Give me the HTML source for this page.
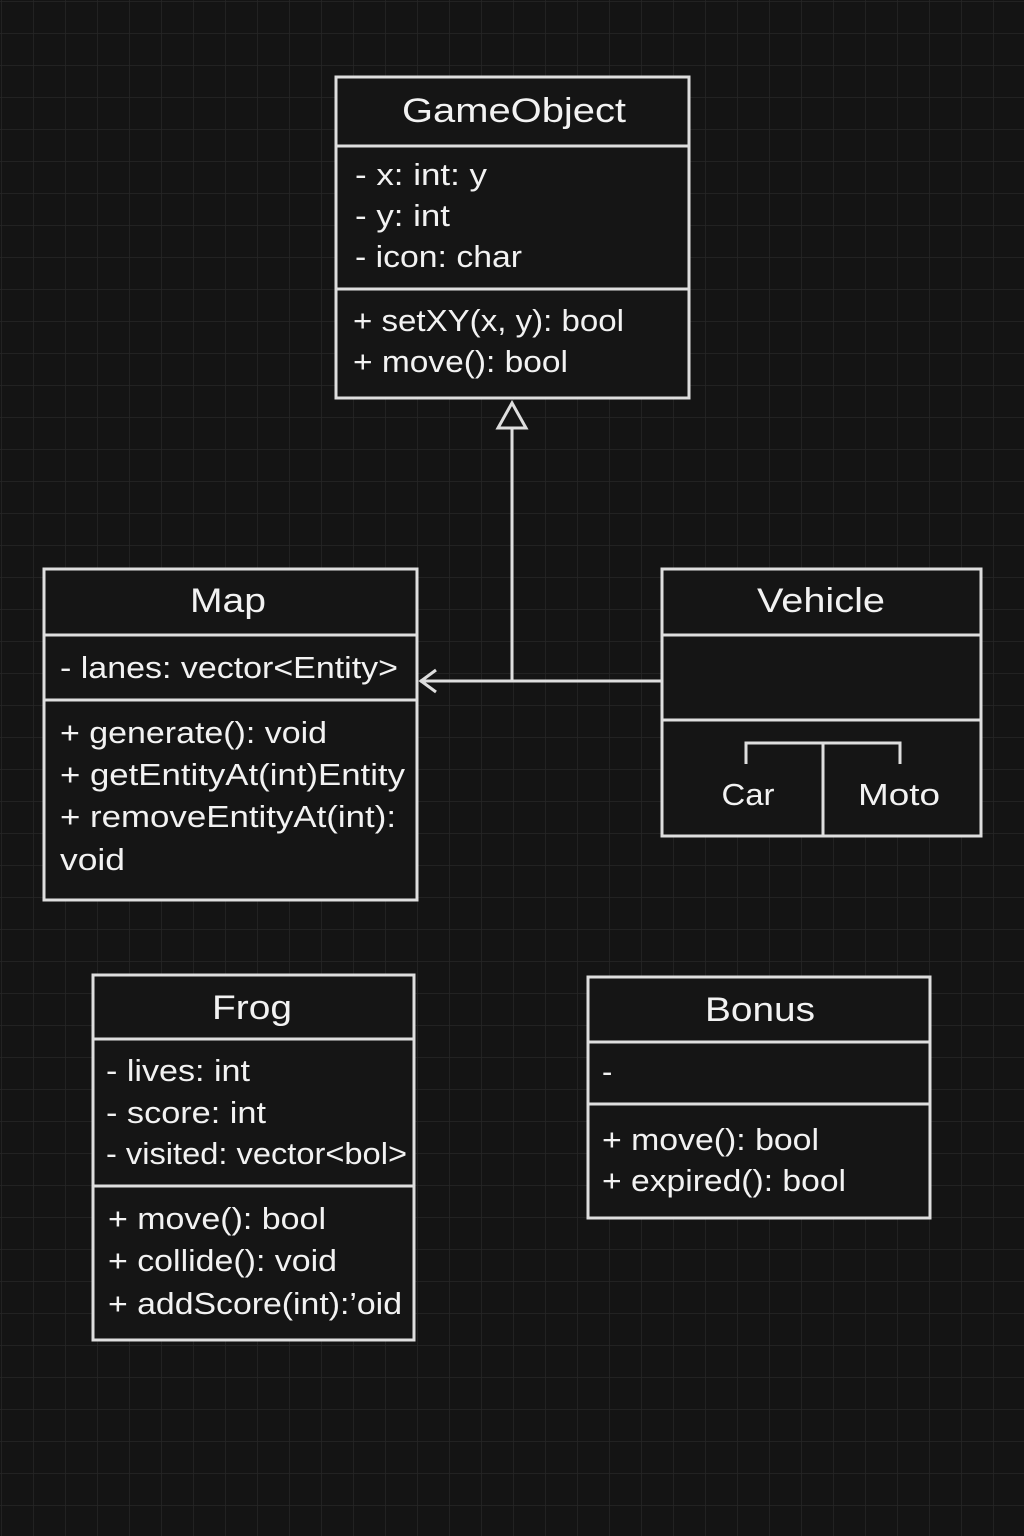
<!DOCTYPE html>
<html><head><meta charset="utf-8"><style>
html,body{margin:0;padding:0;background:#141414;}
svg{display:block;}
text{font-family:"Liberation Sans",sans-serif;fill:#f2f2f2;}
.t{font-size:34px;}
.b{font-size:31px;}
</style></head><body>
<svg width="1024" height="1536" viewBox="0 0 1024 1536" xmlns="http://www.w3.org/2000/svg">
<defs>
<pattern id="g" width="32" height="32" patternUnits="userSpaceOnUse" x="1" y="1">
<path d="M0 0H32M0 0V32" stroke="#262626" stroke-width="1.5" fill="none"/>
</pattern>
</defs>
<rect width="1024" height="1536" fill="#141414"/>
<rect width="1024" height="1536" fill="url(#g)"/>
<g stroke="#dedede" stroke-width="3" fill="#151515">
<!-- GameObject -->
<rect x="336" y="77" width="353" height="321"/>
<line x1="336" y1="146" x2="689" y2="146"/>
<line x1="336" y1="289" x2="689" y2="289"/>
<!-- Map -->
<rect x="44" y="569" width="373" height="331"/>
<line x1="44" y1="635" x2="417" y2="635"/>
<line x1="44" y1="700" x2="417" y2="700"/>
<!-- Vehicle -->
<rect x="662" y="569" width="319" height="267"/>
<line x1="662" y1="635" x2="981" y2="635"/>
<line x1="662" y1="720" x2="981" y2="720"/>
<line x1="823" y1="743" x2="823" y2="836"/>
<polyline points="746,764 746,743 900,743 900,764" fill="none"/>
<!-- Frog -->
<rect x="93" y="975" width="321" height="365"/>
<line x1="93" y1="1039" x2="414" y2="1039"/>
<line x1="93" y1="1186" x2="414" y2="1186"/>
<!-- Bonus -->
<rect x="588" y="977" width="342" height="241"/>
<line x1="588" y1="1042" x2="930" y2="1042"/>
<line x1="588" y1="1104" x2="930" y2="1104"/>
<!-- connectors -->
<line x1="512" y1="428" x2="512" y2="681" fill="none"/>
<line x1="420" y1="681" x2="662" y2="681" fill="none"/>
<polygon points="512,403 498,428 526,428" fill="#141414"/>
<polyline points="436,670 421,681 436,692" fill="none"/>
</g>
<text class="t" x="514" y="122" text-anchor="middle" textLength="224" lengthAdjust="spacingAndGlyphs">GameObject</text>
<text class="b" x="355" y="185" textLength="132" lengthAdjust="spacingAndGlyphs">- x: int: y</text>
<text class="b" x="355" y="226" textLength="95" lengthAdjust="spacingAndGlyphs">- y: int</text>
<text class="b" x="355" y="267" textLength="167" lengthAdjust="spacingAndGlyphs">- icon: char</text>
<text class="b" x="353" y="331" textLength="271" lengthAdjust="spacingAndGlyphs">+ setXY(x, y): bool</text>
<text class="b" x="353" y="372" textLength="215" lengthAdjust="spacingAndGlyphs">+ move(): bool</text>

<text class="t" x="228" y="612" text-anchor="middle" textLength="76" lengthAdjust="spacingAndGlyphs">Map</text>
<text class="b" x="60" y="678" textLength="338" lengthAdjust="spacingAndGlyphs">- lanes: vector&lt;Entity&gt;</text>
<text class="b" x="60" y="743" textLength="267" lengthAdjust="spacingAndGlyphs">+ generate(): void</text>
<text class="b" x="60" y="785" textLength="345" lengthAdjust="spacingAndGlyphs">+ getEntityAt(int)Entity</text>
<text class="b" x="60" y="827" textLength="336" lengthAdjust="spacingAndGlyphs">+ removeEntityAt(int):</text>
<text class="b" x="60" y="870" textLength="65" lengthAdjust="spacingAndGlyphs">void</text>

<text class="t" x="821" y="612" text-anchor="middle" textLength="128" lengthAdjust="spacingAndGlyphs">Vehicle</text>
<text class="b" x="748" y="805" text-anchor="middle" textLength="53" lengthAdjust="spacingAndGlyphs">Car</text>
<text class="b" x="899" y="805" text-anchor="middle" textLength="82" lengthAdjust="spacingAndGlyphs">Moto</text>

<text class="t" x="252" y="1019" text-anchor="middle" textLength="80" lengthAdjust="spacingAndGlyphs">Frog</text>
<text class="b" x="106" y="1081" textLength="144" lengthAdjust="spacingAndGlyphs">- lives: int</text>
<text class="b" x="106" y="1123" textLength="160" lengthAdjust="spacingAndGlyphs">- score: int</text>
<text class="b" x="106" y="1164" textLength="301" lengthAdjust="spacingAndGlyphs">- visited: vector&lt;bol&gt;</text>
<text class="b" x="108" y="1229" textLength="218" lengthAdjust="spacingAndGlyphs">+ move(): bool</text>
<text class="b" x="108" y="1271" textLength="229" lengthAdjust="spacingAndGlyphs">+ collide(): void</text>
<text class="b" x="108" y="1314" textLength="294" lengthAdjust="spacingAndGlyphs">+ addScore(int):’oid</text>

<text class="t" x="760" y="1021" text-anchor="middle" textLength="110" lengthAdjust="spacingAndGlyphs">Bonus</text>
<text class="b" x="602" y="1082">-</text>
<text class="b" x="602" y="1150" textLength="217" lengthAdjust="spacingAndGlyphs">+ move(): bool</text>
<text class="b" x="602" y="1191" textLength="244" lengthAdjust="spacingAndGlyphs">+ expired(): bool</text>
</svg>
</body></html>
